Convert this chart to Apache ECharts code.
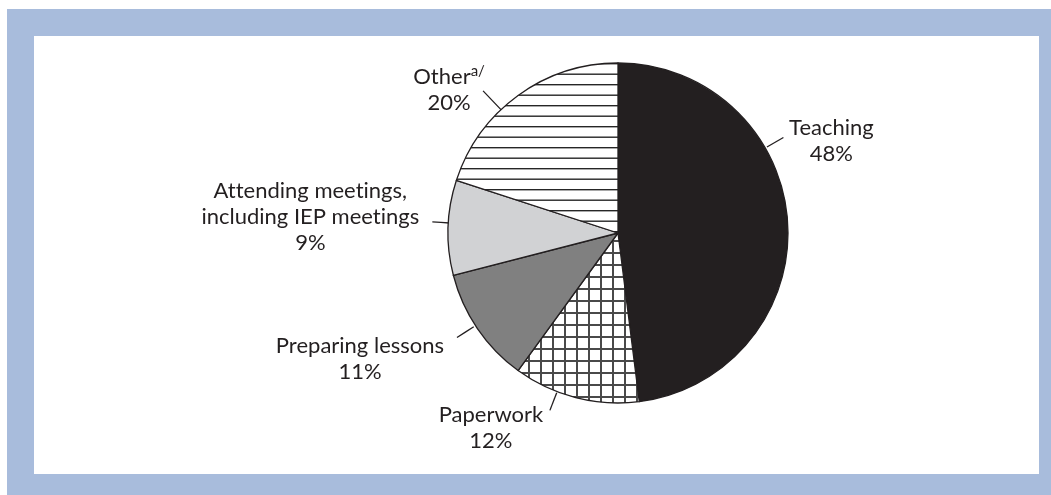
<!DOCTYPE html>
<html>
<head>
<meta charset="utf-8">
<title>How time is spent</title>
<script src="https://cdn.jsdelivr.net/npm/echarts@6/dist/echarts.min.js"></script>
<style>
  html, body { margin: 0; padding: 0; background: #ffffff; }
  body { width: 1051px; height: 495px; position: relative; overflow: hidden; }
  #frame { position: absolute; left: 7px; top: 9px; right: 0; bottom: 0; background: #a8bcdc; }
  #panel { position: absolute; left: 34px; top: 36px; width: 1005px; height: 438px; background: #ffffff; }
  #chart { position: absolute; left: 0; top: 0; width: 1051px; height: 495px; }
</style>
</head>
<body>
<div id="frame"></div>
<div id="panel"></div>
<div id="chart"></div>
<script>
// Activities and their share of working time (percent)
const categories = ['Teaching', 'Paperwork', 'Preparing lessons', 'Attending meetings, including IEP meetings', 'Other'];
const labelText = [['Teaching'], ['Paperwork'], ['Preparing lessons'], ['Attending meetings,', 'including IEP meetings'], ['Other']];
const footnotes = ['', '', '', '', 'a/'];
const shares = [48, 12, 11, 9, 20];

// Pie geometry
const CX = 618, CY = 233, R = 170;
const INK = '#231f20';

// Where each callout leaves the pie: angle clockwise from 12 o'clock,
// radial start/end of the leader line (beyond the rim) and text offset from its end.
const callouts = [
  { angle: 60,    from: 2,  to: 21, dx: 48,   dy: 3 },
  { angle: 201,   from: 1,  to: 20, dx: -59,  dy: 18 },
  { angle: 237,   from: 2,  to: 22, dx: -97,  dy: 21 },
  { angle: 273.4, from: -1, to: 16, dx: -122, dy: -5 },
  { angle: 316.5, from: -1, to: 26, dx: -34,  dy: -1 }
];

function polar(angleDeg, rad) {
  const a = angleDeg * Math.PI / 180;
  return [CX + rad * Math.sin(a), CY - rad * Math.cos(a)];
}

// Lato joins "tt" / "ti" into ligatures; a zero-width non-joiner keeps the letters apart
function noLigatures(s) {
  return s.replace(/([tf])(?=[a-z])/g, '$1\u200C');
}

// Fill patterns
function gridPattern() {
  const c = document.createElement('canvas');
  c.width = 12; c.height = 12;
  const g = c.getContext('2d');
  g.fillStyle = '#ffffff'; g.fillRect(0, 0, 12, 12);
  g.fillStyle = '#4a4a4a';
  g.fillRect(0, 0, 12, 2);
  g.fillRect(0, 0, 2, 12);
  return { image: c, repeat: 'repeat' };
}
function stripePattern() {
  const c = document.createElement('canvas');
  c.width = 8; c.height = 21;
  const g = c.getContext('2d');
  g.fillStyle = '#ffffff'; g.fillRect(0, 0, 8, 21);
  g.fillStyle = '#262626';
  g.fillRect(0, 0, 8, 1.4);
  g.fillRect(0, 10.5, 8, 1.4);
  return { image: c, repeat: 'repeat' };
}

const fills = [INK, gridPattern(), '#808080', '#d1d2d4', stripePattern()];

const pieData = categories.map((name, i) => ({
  name: name,
  value: shares[i],
  itemStyle: { color: fills[i] }
}));

const chart = echarts.init(document.getElementById('chart'), null, { renderer: 'canvas' });

chart.setOption({
  animation: false,
  series: [{
    type: 'pie',
    center: [CX, CY],
    radius: R,
    startAngle: 90,
    clockwise: true,
    avoidLabelOverlap: false,
    silent: true,
    emphasis: { disabled: true },
    itemStyle: { borderColor: INK, borderWidth: 1.3 },
    data: pieData,
    label: {
      show: true,
      position: 'outside',
      color: INK,
      fontFamily: 'Lato',
      fontSize: 22,
      lineHeight: 26,
      formatter: function (p) {
        const i = p.dataIndex;
        const lines = labelText[i].map((t, k) =>
          '{t|' + noLigatures(t) + '}' +
          (k === labelText[i].length - 1 && footnotes[i] ? '{sup|' + footnotes[i] + '}' : ''));
        lines.push('{t|' + shares[i] + '%}');
        return lines.join('\n');
      },
      rich: {
        t: { align: 'center', fontFamily: 'Lato', fontSize: 22, lineHeight: 26, color: INK },
        sup: { align: 'center', fontFamily: 'Lato', fontSize: 15, lineHeight: 26, color: INK, verticalAlign: 'top', padding: [0, 0, 3, 0] }
      }
    },
    labelLine: {
      show: true,
      smooth: false,
      length: 15,
      length2: 0,
      lineStyle: { color: INK, width: 1.3 }
    },
    labelLayout: function (params) {
      const c = callouts[params.dataIndex];
      const a = polar(c.angle, R + c.from);
      const b = polar(c.angle, R + c.to);
      const m = [(a[0] + b[0]) / 2, (a[1] + b[1]) / 2];
      return {
        x: b[0] + c.dx,
        y: b[1] + c.dy,
        align: 'center',
        verticalAlign: 'middle',
        labelLinePoints: [a, m, b]
      };
    }
  }]
});
</script>
</body>
</html>
